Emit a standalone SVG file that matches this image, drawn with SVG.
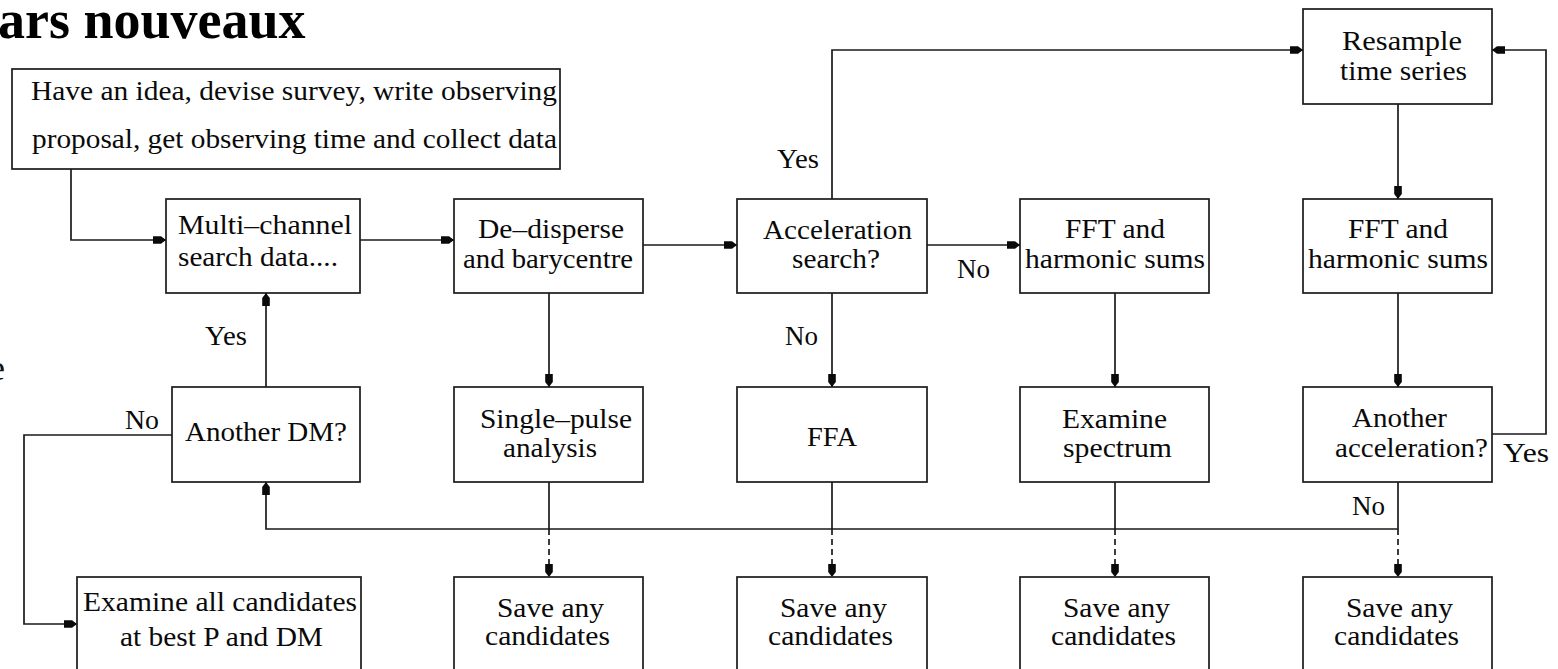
<svg xmlns="http://www.w3.org/2000/svg" width="1558" height="669" viewBox="0 0 1558 669">
<style>
.box{fill:#fff;stroke:#1a1a1a;stroke-width:1.7}
.t{font-family:"Liberation Serif","Times New Roman",serif;font-size:27px;fill:#0a0a0a}
.ln{fill:none;stroke:#1a1a1a;stroke-width:1.7}
.ar{marker-end:url(#ah)}
.dash{stroke-dasharray:6 4}
</style>
<defs>
<marker id="ah" markerWidth="14" markerHeight="10" refX="13" refY="5" orient="auto" markerUnits="userSpaceOnUse">
<path d="M0,1.2 L8,1.2 L13,5 L8,8.8 L0,8.8 Z" fill="#0a0a0a"/>
</marker>
</defs>
<rect width="1558" height="669" fill="#fff"/>
<text x="-2" y="38" style="font-family:'Liberation Serif','Times New Roman',serif;font-size:54px;font-weight:bold;fill:#000">ars nouveaux</text>
<text x="-11" y="380" style="font-family:'Liberation Serif','Times New Roman',serif;font-size:36px;fill:#111">e</text>

<g id="connectors">
<path class="ln ar" d="M71,169 V240 H166"/>
<path class="ln ar" d="M360,240 H454"/>
<path class="ln ar" d="M643,245 H737"/>
<path class="ln ar" d="M927,245 H1020"/>
<path class="ln ar" d="M832,199 V50 H1303"/>
<path class="ln ar" d="M1398,104 V199"/>
<path class="ln ar" d="M1398,293 V387"/>
<path class="ln ar" d="M1492,434 H1546 V50 H1492"/>
<path class="ln" d="M1398,482 V529"/>
<path class="ln dash ar" d="M1398,529 V577"/>
<path class="ln ar" d="M1398,529 H266 V482"/>
<path class="ln ar" d="M1115,293 V387"/>
<path class="ln" d="M1115,482 V529"/>
<path class="ln dash ar" d="M1115,529 V577"/>
<path class="ln ar" d="M832,293 V387"/>
<path class="ln" d="M832,482 V529"/>
<path class="ln dash ar" d="M832,529 V577"/>
<path class="ln ar" d="M549,293 V387"/>
<path class="ln" d="M549,482 V529"/>
<path class="ln dash ar" d="M549,529 V577"/>
<path class="ln ar" d="M266,387 V293"/>
<path class="ln ar" d="M172,435 H24 V624 H77"/>
<text class="t" x="777" y="168" textLength="42" lengthAdjust="spacingAndGlyphs">Yes</text>
<text class="t" x="957" y="278" textLength="33" lengthAdjust="spacingAndGlyphs">No</text>
<text class="t" x="785" y="345" textLength="33" lengthAdjust="spacingAndGlyphs">No</text>
<text class="t" x="205" y="345" textLength="42" lengthAdjust="spacingAndGlyphs">Yes</text>
<text class="t" x="125" y="429" textLength="34" lengthAdjust="spacingAndGlyphs">No</text>
<text class="t" x="1503" y="462" textLength="46" lengthAdjust="spacingAndGlyphs">Yes</text>
<text class="t" x="1352" y="515" textLength="33" lengthAdjust="spacingAndGlyphs">No</text>
</g>

<g id="n-idea">
<rect class="box" x="12" y="69" width="548" height="100"/>
<text class="t" x="31" y="100" textLength="526" lengthAdjust="spacingAndGlyphs">Have an idea, devise survey, write observing</text>
<text class="t" x="32" y="148" textLength="525" lengthAdjust="spacingAndGlyphs">proposal, get observing time and collect data</text>
</g>
<g id="n-multi">
<rect class="box" x="166" y="199" width="194" height="94"/>
<text class="t" x="178" y="234" textLength="174" lengthAdjust="spacingAndGlyphs">Multi–channel</text>
<text class="t" x="178" y="266" textLength="160" lengthAdjust="spacingAndGlyphs">search data....</text>
</g>
<g id="n-dedisperse">
<rect class="box" x="454" y="199" width="189" height="94"/>
<text class="t" x="478" y="238" textLength="146" lengthAdjust="spacingAndGlyphs">De–disperse</text>
<text class="t" x="463" y="268" textLength="170" lengthAdjust="spacingAndGlyphs">and barycentre</text>
</g>
<g id="n-accel">
<rect class="box" x="737" y="199" width="190" height="94"/>
<text class="t" x="763" y="239" textLength="149" lengthAdjust="spacingAndGlyphs">Acceleration</text>
<text class="t" x="792" y="268" textLength="88" lengthAdjust="spacingAndGlyphs">search?</text>
</g>
<g id="n-fft1">
<rect class="box" x="1020" y="199" width="189" height="94"/>
<text class="t" x="1065" y="238" textLength="100" lengthAdjust="spacingAndGlyphs">FFT and</text>
<text class="t" x="1025" y="268" textLength="180" lengthAdjust="spacingAndGlyphs">harmonic sums</text>
</g>
<g id="n-fft2">
<rect class="box" x="1303" y="199" width="189" height="94"/>
<text class="t" x="1348" y="238" textLength="100" lengthAdjust="spacingAndGlyphs">FFT and</text>
<text class="t" x="1308" y="268" textLength="180" lengthAdjust="spacingAndGlyphs">harmonic sums</text>
</g>
<g id="n-resample">
<rect class="box" x="1303" y="9" width="189" height="95"/>
<text class="t" x="1342" y="50" textLength="120" lengthAdjust="spacingAndGlyphs">Resample</text>
<text class="t" x="1340" y="80" textLength="127" lengthAdjust="spacingAndGlyphs">time series</text>
</g>
<g id="n-anotherdm">
<rect class="box" x="172" y="387" width="188" height="95"/>
<text class="t" x="185" y="441" textLength="162" lengthAdjust="spacingAndGlyphs">Another DM?</text>
</g>
<g id="n-single">
<rect class="box" x="454" y="387" width="189" height="95"/>
<text class="t" x="480" y="428" textLength="152" lengthAdjust="spacingAndGlyphs">Single–pulse</text>
<text class="t" x="503" y="457" textLength="94" lengthAdjust="spacingAndGlyphs">analysis</text>
</g>
<g id="n-ffa">
<rect class="box" x="737" y="387" width="190" height="95"/>
<text class="t" x="807" y="446" textLength="50" lengthAdjust="spacingAndGlyphs">FFA</text>
</g>
<g id="n-spectrum">
<rect class="box" x="1020" y="387" width="189" height="95"/>
<text class="t" x="1062" y="428" textLength="105" lengthAdjust="spacingAndGlyphs">Examine</text>
<text class="t" x="1063" y="457" textLength="109" lengthAdjust="spacingAndGlyphs">spectrum</text>
</g>
<g id="n-anotheracc">
<rect class="box" x="1303" y="387" width="189" height="95"/>
<text class="t" x="1352" y="427" textLength="95" lengthAdjust="spacingAndGlyphs">Another</text>
<text class="t" x="1335" y="457" textLength="153" lengthAdjust="spacingAndGlyphs">acceleration?</text>
</g>
<g id="n-examineall">
<rect class="box" x="77" y="577" width="284" height="100"/>
<text class="t" x="83" y="611" textLength="274" lengthAdjust="spacingAndGlyphs">Examine all candidates</text>
<text class="t" x="120" y="646" textLength="203" lengthAdjust="spacingAndGlyphs">at best P and DM</text>
</g>
<g id="n-save1">
<rect class="box" x="454" y="577" width="189" height="100"/>
<text class="t" x="497" y="617" textLength="107" lengthAdjust="spacingAndGlyphs">Save any</text>
<text class="t" x="485" y="645" textLength="125" lengthAdjust="spacingAndGlyphs">candidates</text>
</g>
<g id="n-save2">
<rect class="box" x="737" y="577" width="190" height="100"/>
<text class="t" x="780" y="617" textLength="107" lengthAdjust="spacingAndGlyphs">Save any</text>
<text class="t" x="768" y="645" textLength="125" lengthAdjust="spacingAndGlyphs">candidates</text>
</g>
<g id="n-save3">
<rect class="box" x="1020" y="577" width="189" height="100"/>
<text class="t" x="1063" y="617" textLength="107" lengthAdjust="spacingAndGlyphs">Save any</text>
<text class="t" x="1051" y="645" textLength="125" lengthAdjust="spacingAndGlyphs">candidates</text>
</g>
<g id="n-save4">
<rect class="box" x="1303" y="577" width="189" height="100"/>
<text class="t" x="1346" y="617" textLength="107" lengthAdjust="spacingAndGlyphs">Save any</text>
<text class="t" x="1334" y="645" textLength="125" lengthAdjust="spacingAndGlyphs">candidates</text>
</g>
</svg>
